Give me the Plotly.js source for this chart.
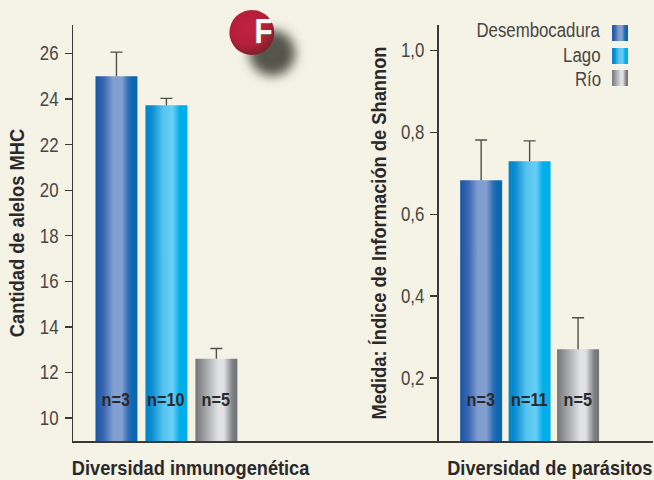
<!DOCTYPE html>
<html><head><meta charset="utf-8">
<script src="https://cdn.plot.ly/plotly-3.0.1.min.js"></script>
<style>html,body{margin:0;padding:0;background:#f5f3e5;overflow:hidden}</style>
</head><body>
<svg width="0" height="0" style="position:absolute">
<defs>
<linearGradient id="g0" x1="0" x2="1" y1="0" y2="0">
<stop offset="0" stop-color="#1a55a5"/><stop offset=".2" stop-color="#3a68b2"/><stop offset=".42" stop-color="#7f9dcf"/><stop offset=".62" stop-color="#84a0d0"/><stop offset=".78" stop-color="#2f6fb6"/><stop offset=".88" stop-color="#0d68b4"/><stop offset="1" stop-color="#0c66b2"/>
</linearGradient>
<linearGradient id="g1" x1="0" x2="1" y1="0" y2="0">
<stop offset="0" stop-color="#0083c8"/><stop offset=".15" stop-color="#0a8dd0"/><stop offset=".42" stop-color="#55c3f0"/><stop offset=".65" stop-color="#68cef6"/><stop offset=".82" stop-color="#00aeea"/><stop offset="1" stop-color="#00aeea"/>
</linearGradient>
<linearGradient id="g2" x1="0" x2="1" y1="0" y2="0">
<stop offset="0" stop-color="#737478"/><stop offset=".2" stop-color="#9a9ca0"/><stop offset=".55" stop-color="#e0e2e5"/><stop offset=".68" stop-color="#dfe1e4"/><stop offset=".88" stop-color="#808185"/><stop offset="1" stop-color="#707174"/>
</linearGradient>
<radialGradient id="badge" cx=".42" cy=".38" r=".68">
<stop offset="0" stop-color="#c4213f"/><stop offset=".62" stop-color="#b21f38"/><stop offset="1" stop-color="#6f2029"/>
</radialGradient>
<filter id="blur" x="-50%" y="-50%" width="200%" height="200%"><feGaussianBlur stdDeviation="5.5"/></filter>
</defs>
</svg>
<div id="chart" style="width:654px;height:480px"></div>
<script>
// Data
const sites = ["Desembocadura", "Lago", "Río"];
const mhcValues = [25.0, 23.73, 12.6];
const mhcErrors = [1.06, 0.3, 0.45];
const mhcCounts = ["n=3", "n=10", "n=5"];
const shannonValues = [0.683, 0.729, 0.27];
const shannonErrors = [0.098, 0.05, 0.077];
const shannonCounts = ["n=3", "n=11", "n=5"];
const baseColors = ["#3a68b2", "#22a4e0", "#a8aaad"];
const leftTitle = "Cantidad de alelos MHC";
const rightTitle = "Medida: Índice de Información de Shannon";
const leftGroup = "Diversidad inmunogenética";
const rightGroup = "Diversidad de parásitos";

const W = 654, H = 480, L = 72.5, R = 653, T = 25, B = 441, SPLIT = 438.7;
const px = x => (x - L) / (R - L);
const py = y => (B - y) / (B - T);
const FONT = '"Liberation Sans",sans-serif';
const INK = "#474644", DARK = "#2a292b", AXIS = "#3b3a38";

function bars(values, errors, xa, ya, width) {
  return sites.map((s, i) => ({
    type: "bar", name: s, x: [s], y: [values[i]], width: width, xaxis: xa, yaxis: ya,
    marker: {color: baseColors[i], line: {width: 0}},
    error_y: {type: "data", symmetric: false, array: [errors[i]], arrayminus: [0],
              color: "#504f4c", thickness: 1.4, width: 6},
    showlegend: false, hoverinfo: "skip"
  }));
}
const traces = [...bars(mhcValues, mhcErrors, "x", "y", 0.84),
                ...bars(shannonValues, shannonErrors, "x2", "y2", 0.866)];

const yCommon = {showline: true, linecolor: AXIS, linewidth: 1.5, ticks: "outside", ticklen: 7,
  tickwidth: 1.3, tickcolor: AXIS, showgrid: false, zeroline: false, ticklabelstandoff: 2,
  tickfont: {family: FONT, size: 20, color: INK}, domain: [0, 1]};
const xCommon = {type: "category", categoryorder: "array", categoryarray: sites, showline: true,
  linecolor: AXIS, linewidth: 1.5, ticks: "", showticklabels: false, showgrid: false, zeroline: false};

const annotations = [];
const note = (o) => annotations.push({yanchor: "middle", showarrow: false, ...o});
mhcCounts.forEach((t, i) => note({xref: "x", x: sites[i], yref: "paper", y: py(400), text: t,
  font: {family: FONT, size: 18, color: DARK, weight: 700}}));
shannonCounts.forEach((t, i) => note({xref: "x2", x: sites[i], yref: "paper", y: py(400), text: t,
  font: {family: FONT, size: 18, color: DARK, weight: 700}}));
[[leftGroup, 191], [rightGroup, 549.5]].forEach(([t, x]) => note({
  xref: "paper", yref: "paper", x: px(x), y: py(468), text: t, xanchor: "center",
  font: {family: FONT, size: 20, color: DARK, weight: 700}}));
[30, 55, 79].forEach((y, i) => note({xref: "paper", yref: "paper", x: px(603), y: py(y), xanchor: "right",
  text: sites[i], font: {family: FONT, size: 20, color: INK}}));
note({xref: "paper", yref: "paper", x: px(251), y: py(31), text: "F",
  font: {family: FONT, size: 35, color: "#fbf8f4", weight: 700, shadow: "-1px 1px 0 #7a6a68"}});

const rect = (x0, y0, x1, y1) => ({type: "rect", xref: "paper", yref: "paper", x0: px(x0), x1: px(x1),
  y0: py(y0), y1: py(y1), line: {width: 0}, fillcolor: "#888"});
const circle = (cx, cy, r, c) => ({type: "circle", xref: "paper", yref: "paper", x0: px(cx - r), x1: px(cx + r),
  y0: py(cy + r), y1: py(cy - r), line: {width: 0}, fillcolor: c});
const shapes = [rect(612, 25, 628, 41), rect(612, 48, 628, 64), rect(612, 70, 628, 86),
  circle(272, 53, 23, "#55554c"), circle(251.5, 32.5, 22.5, "#b21f38")];

const layout = {
  width: W, height: H, margin: {l: L, r: W - R, t: T, b: H - B, pad: 0}, autosize: false,
  paper_bgcolor: "#f5f3e5", plot_bgcolor: "rgba(0,0,0,0)", barmode: "overlay", separators: ",.", showlegend: false,
  font: {family: FONT},
  xaxis: {...xCommon, domain: [0, px(SPLIT)], range: [-0.87, 6.454], anchor: "y"},
  xaxis2: {...xCommon, domain: [px(SPLIT), 1], range: [-0.872, 3.546], anchor: "y2"},
  yaxis: {...yCommon, anchor: "x", range: [8.99, 27.25], tick0: 10, dtick: 2,
    title: {text: leftTitle, standoff: 6, font: {family: FONT, size: 20, color: DARK, weight: 700}}},
  yaxis2: {...yCommon, anchor: "x2", range: [0.046, 1.062], tick0: 0, dtick: 0.2, tickformat: ".1f",
    title: {text: rightTitle, standoff: 4, font: {family: FONT, size: 20, color: DARK, weight: 700}}},
  annotations, shapes
};

// narrows real text; keep = 1 holds the right edge, 0 the centre
function squeeze(el, ratio, keep) {
  const w = el.getComputedTextLength();
  el.setAttribute("lengthAdjust", "spacingAndGlyphs");
  el.setAttribute("textLength", (w * ratio).toFixed(1));
  if (keep) el.setAttribute("x", parseFloat(el.getAttribute("x") || 0) + keep * w * (1 - ratio) / 2);
}
// same narrowing as a transform around the text's own centre
function scaleX(el, ratio) {
  const cx = parseFloat(el.getAttribute("x") || 0);
  el.setAttribute("transform", "translate(" + cx + ",0) scale(" + ratio + ",1) translate(" + (-cx) + ",0)");
}

Plotly.newPlot("chart", traces, layout, {displayModeBar: false, staticPlot: true}).then(gd => {
  gd.querySelectorAll(".barlayer .trace").forEach(tr => {
    const name = tr.__data__ && tr.__data__[0] && tr.__data__[0].trace.name;
    const i = sites.indexOf(name);
    tr.querySelectorAll(".point path").forEach(p => { p.style.fill = "url(#g" + i + ")"; });
  });
  // error bars only rise from the bar: drop the lower cap
  gd.querySelectorAll("path.yerror").forEach(p => {
    p.setAttribute("d", p.getAttribute("d").replace(/m-[\d.]+,0h[\d.]+$/, ""));
  });
  const shape = i => gd.querySelector('.shapelayer path[data-index="' + i + '"]');
  [0, 1, 2].forEach(i => { shape(i).style.fill = "url(#g" + i + ")"; });
  shape(3).setAttribute("filter", "url(#blur)");
  shape(4).style.fill = "url(#badge)";

  // the reference face is condensed; narrow the real text to its measured widths
  gd.querySelectorAll(".ytick text, .y2tick text").forEach(t => squeeze(t, 0.84, 0));
  gd.querySelectorAll(".ytitle, .y2title").forEach(t => squeeze(t, 0.915, 0));
  gd.querySelectorAll(".annotation-text").forEach(t => {
    const s = t.textContent;
    if (s.startsWith("n=")) squeeze(t, 0.9, 0);
    else if (s === leftGroup || s === rightGroup) scaleX(t, 0.91);
    else if (s === "F") squeeze(t, 0.85, 0);
    else squeeze(t, 0.84, 1);
  });
});
</script>
</body></html>
